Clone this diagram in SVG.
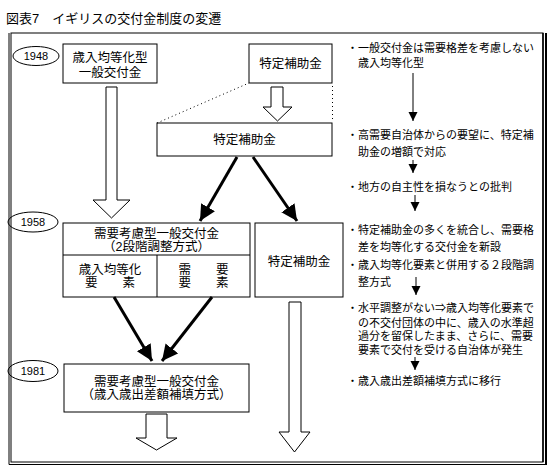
<svg xmlns="http://www.w3.org/2000/svg" width="555" height="472" viewBox="0 0 555 472">
<style>
text{font-family:"Liberation Sans","Noto Sans CJK JP",sans-serif;fill:#000}
.t{font-size:12.5px;text-anchor:middle}
.r{font-size:11px}
.y{font-size:11px;text-anchor:middle}
.box{fill:#fff;stroke:#000;stroke-width:1}
.hol{fill:#fff;stroke:#000;stroke-width:1}
.thk{stroke:#000;stroke-width:3;fill:none}
.thin{stroke:#000;stroke-width:1;fill:none}
.dot{stroke:#000;stroke-width:1;stroke-dasharray:1 3;fill:none}
</style>
<defs>
<marker id="big" markerUnits="userSpaceOnUse" markerWidth="18" markerHeight="18" refX="16" refY="8" orient="auto" viewBox="0 0 18 16">
<path d="M0,0 L16,8 L0,16 Z" fill="#000"/>
</marker>
<marker id="sm" markerUnits="userSpaceOnUse" markerWidth="10" markerHeight="10" refX="9" refY="4.5" orient="auto" viewBox="0 0 10 9">
<path d="M0,0 L9,4.5 L0,9 Z" fill="#000"/>
</marker>
</defs>
<rect width="555" height="472" fill="#fff"/>
<text x="6" y="23" style="font-size:13px">図表7　イギリスの交付金制度の変遷</text>
<g id="frame">
<rect x="11" y="33" width="532" height="429" class="thin"/>
<path d="M9,33 V464.5 H546 V33" class="thin"/>
<line x1="546" y1="33" x2="546" y2="465" stroke="#000" stroke-width="2"/>
<line x1="543" y1="33" x2="543" y2="462" stroke="#000" stroke-width="1.5"/>
</g>
<g id="y1948"><ellipse cx="36" cy="56" rx="23" ry="9.5" class="thin"/><text x="36" y="60" class="y">1948</text></g>
<g id="y1958"><ellipse cx="33" cy="222" rx="25" ry="10" class="thin"/><text x="33" y="226" class="y">1958</text></g>
<g id="y1981"><ellipse cx="33" cy="371" rx="25" ry="10.5" class="thin"/><text x="33" y="375" class="y">1981</text></g>
<g id="n1"><rect x="63" y="44" width="94" height="39" class="box"/><text x="110" y="62" class="t">歳入均等化型</text><text x="110" y="77" class="t">一般交付金</text></g>
<g id="n2"><rect x="249" y="44" width="83" height="39" class="box"/><text x="290.5" y="68" class="t">特定補助金</text></g>
<g id="n3"><rect x="157" y="123" width="175" height="33" class="box"/><text x="244.5" y="144" class="t">特定補助金</text></g>
<g id="n4"><rect x="63" y="223" width="187" height="74" class="box"/><line x1="63" y1="255" x2="250" y2="255" class="thin"/><line x1="157" y1="255" x2="157" y2="297" class="thin"/>
<text x="156.5" y="238" class="t">需要考慮型一般交付金</text><text x="156.5" y="251" class="t">（2段階調整方式）</text>
<text x="110" y="274" class="t">歳入均等化</text><text x="110" y="287" class="t">要　　素</text>
<text x="203.5" y="274" class="t">需　　要</text><text x="203.5" y="287" class="t">要　　素</text></g>
<g id="n5"><rect x="255" y="223" width="88" height="74" class="box"/><text x="299" y="266" class="t">特定補助金</text></g>
<g id="n6"><rect x="64" y="364" width="185" height="48" class="box"/><text x="156.5" y="386" class="t">需要考慮型一般交付金</text><text x="156.5" y="399" class="t">（歳入歳出差額補填方式）</text></g>
<g id="connectors">
<line x1="157" y1="123" x2="249" y2="83" class="dot"/>
<line x1="332.5" y1="86" x2="332.5" y2="122" class="dot"/>
<polygon points="271,87 283,87 283,107 292,107 277.5,121 263,107 271,107" class="hol"/>
<polygon points="106,87 117,87 117,200 130,200 111.5,218 93,200 106,200" class="hol"/>
<polygon points="289,302 301,302 301,432 310,432 294.5,452 279,432 289,432" class="hol"/>
<polygon points="146,414 167,414 167,438 177,438 156.5,450 136,438 146,438" class="hol"/>
<line x1="237" y1="157" x2="200" y2="221" class="thk" marker-end="url(#big)"/>
<line x1="253" y1="157" x2="297" y2="221" class="thk" marker-end="url(#big)"/>
<line x1="114" y1="297" x2="152" y2="361" class="thk" marker-end="url(#big)"/>
<line x1="212" y1="297" x2="162" y2="361" class="thk" marker-end="url(#big)"/>
<line x1="413" y1="73" x2="413" y2="121" class="thin" marker-end="url(#sm)"/>
<line x1="413" y1="160" x2="413" y2="173" class="thin" marker-end="url(#sm)"/>
<line x1="415" y1="195" x2="415" y2="211" class="thin" marker-end="url(#sm)"/>
<line x1="416" y1="277" x2="416" y2="295" class="thin" marker-end="url(#sm)"/>
<line x1="415" y1="357" x2="415" y2="370" class="thin" marker-end="url(#sm)"/>
</g>
<g id="notes">
<text x="347" y="52" class="r">・</text><text x="358" y="52" class="r">一般交付金は需要格差を考慮しない</text>
<text x="358" y="67" class="r">歳入均等化型</text>
<text x="347" y="139" class="r">・</text><text x="358" y="139" class="r">高需要自治体からの要望に、特定補</text>
<text x="358" y="156" class="r">助金の増額で対応</text>
<text x="347" y="191" class="r">・</text><text x="358" y="191" class="r">地方の自主性を損なうとの批判</text>
<text x="347" y="234" class="r">・</text><text x="358" y="234" class="r">特定補助金の多くを統合し、需要格</text>
<text x="358" y="251" class="r">差を均等化する交付金を新設</text>
<text x="347" y="269" class="r">・</text><text x="358" y="269" class="r">歳入均等化要素と併用する２段階調</text>
<text x="358" y="286" class="r">整方式</text>
<text x="347" y="312" class="r">・</text><text x="358" y="312" class="r">水平調整がない⇒歳入均等化要素で</text>
<text x="358" y="326.5" class="r">の不交付団体の中に、歳入の水準超</text>
<text x="358" y="340" class="r">過分を留保したまま、さらに、需要</text>
<text x="358" y="353.5" class="r">要素で交付を受ける自治体が発生</text>
<text x="347" y="385" class="r">・</text><text x="358" y="385" class="r">歳入歳出差額補填方式に移行</text>
</g>
</svg>
